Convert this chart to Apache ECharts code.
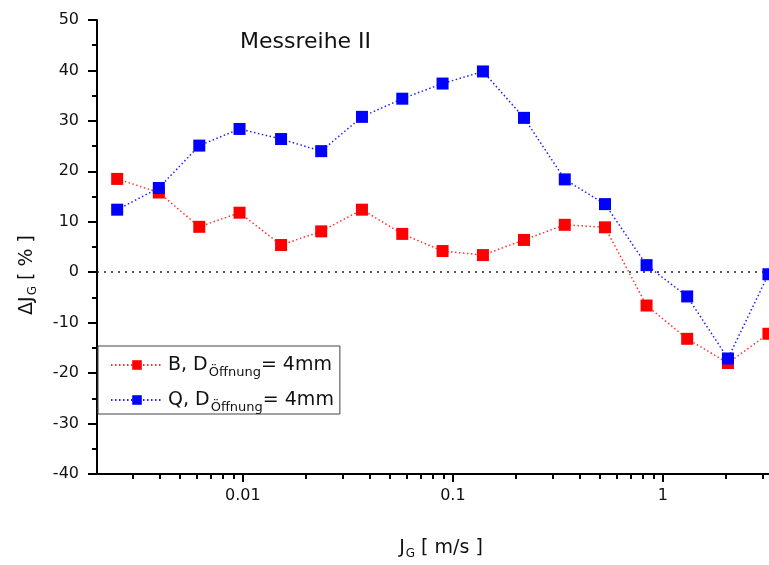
<!DOCTYPE html>
<html>
<head>
<meta charset="utf-8">
<script src="https://cdn.jsdelivr.net/npm/echarts@6/dist/echarts.min.js"></script>
<style>
html,body{margin:0;padding:0;background:#fff;}
#chart{width:769px;height:565px;}
</style>
</head>
<body>
<div id="chart"></div>
<script>
// Data
const jG = [0.00252, 0.00398, 0.0062, 0.00964, 0.0152, 0.0236, 0.0369, 0.0574, 0.0893, 0.139, 0.218, 0.341, 0.530, 0.836, 1.305, 2.04, 3.18];
const seriesB = [18.5, 15.8, 9.0, 11.8, 5.4, 8.1, 12.4, 7.6, 4.2, 3.4, 6.4, 9.4, 8.9, -6.6, -13.2, -18.0, -12.2];
const seriesQ = [12.4, 16.7, 25.1, 28.4, 26.4, 24.0, 30.8, 34.4, 37.4, 39.8, 30.6, 18.4, 13.5, 1.4, -4.8, -17.1, -0.4];
const xMajorTicks = [0.01, 0.1, 1];
const xMinorTicks = [0.002, 0.003, 0.004, 0.005, 0.006, 0.007, 0.008, 0.009,
  0.02, 0.03, 0.04, 0.05, 0.06, 0.07, 0.08, 0.09,
  0.2, 0.3, 0.4, 0.5, 0.6, 0.7, 0.8, 0.9, 2, 3];
const xMin = 0.00202, xMax = 3.2;
const yMin = -40, yMax = 50, yStep = 10;
const nameB = 'B, D';
const nameQ = 'Q, D';
const subText = 'Öffnung';
const suffix = '= 4mm';

const FONT = 'DejaVu Sans';
const chart = echarts.init(document.getElementById('chart'), null, {renderer: 'canvas'});

function pairs(xs, ys) { return xs.map((x, i) => [x, ys[i]]); }

function richSub(main, sub, lh) {
  return {
    a: {fontFamily: FONT, fontSize: main, color: '#111', lineHeight: lh, verticalAlign: 'middle'},
    s: {fontFamily: FONT, fontSize: sub, color: '#111', lineHeight: 8, verticalAlign: 'bottom', padding: [lh - 8, 0, 0, 1]}
  };
}

const option = {
  animation: false,
  backgroundColor: '#fff',
  textStyle: {fontFamily: FONT, color: '#111'},
  title: {
    text: 'Messreihe II',
    left: 235, top: 26,
    textStyle: {fontFamily: FONT, fontSize: 22, fontWeight: 'normal', color: '#111'}
  },
  grid: {left: 97, top: 20, right: 0, bottom: 90, containLabel: false},
  legend: {
    orient: 'vertical',
    left: 98, top: 346,
    padding: [0, 6, 0, 12],
    backgroundColor: '#fff',
    borderColor: '#444', borderWidth: 1,
    itemWidth: 52, itemHeight: 12, itemGap: 2,
    data: [nameB, nameQ],
    formatter: function (n) { return '{a|' + n + '}{s|' + subText + '}{a|' + suffix + '}'; },
    textStyle: {fontFamily: FONT, color: '#111', rich: richSub(19, 13, 28)}
  },
  xAxis: [{
    type: 'log', logBase: 10, min: xMin, max: xMax, position: 'bottom',
    name: '{a|J}{s|G}{a| [ m/s ]}',
    nameLocation: 'middle', nameGap: 62,
    nameTextStyle: {padding: [0, 0, 0, 16], rich: richSub(19, 12, 24)},
    axisLine: {show: true, onZero: false, lineStyle: {color: '#000', width: 2}},
    axisTick: {show: true, inside: false, length: 8, lineStyle: {color: '#000', width: 2}, customValues: xMajorTicks},
    axisLabel: {show: true, margin: 14, fontFamily: FONT, fontSize: 16, color: '#111', customValues: xMajorTicks,
      formatter: function (v) { return String(+v.toPrecision(3)); }},
    minorTick: {show: false},
    splitLine: {show: false}
  }, {
    type: 'log', logBase: 10, min: xMin, max: xMax, position: 'bottom',
    axisLine: {show: false, onZero: false},
    axisTick: {show: true, inside: false, length: 5, lineStyle: {color: '#000', width: 2}, customValues: xMinorTicks},
    axisLabel: {show: false},
    splitLine: {show: false}
  }],
  yAxis: {
    type: 'value', min: yMin, max: yMax, interval: yStep,
    name: '{a|ΔJ}{s|G}{a| [ % ]}',
    nameLocation: 'middle', nameGap: 58, nameRotate: 90,
    nameTextStyle: {padding: [0, 56, 0, 0], rich: richSub(19, 12, 24)},
    axisLine: {show: true, onZero: false, lineStyle: {color: '#000', width: 2}},
    axisTick: {show: true, inside: false, length: 9, lineStyle: {color: '#000', width: 2}},
    minorTick: {show: true, splitNumber: 2, length: 5, lineStyle: {color: '#000', width: 2}},
    axisLabel: {margin: 18, fontFamily: FONT, fontSize: 16, color: '#111'},
    splitLine: {show: false}
  },
  series: [{
    name: nameB, type: 'line', xAxisIndex: 0,
    data: pairs(jG, seriesB),
    symbol: 'rect', symbolSize: 12,
    itemStyle: {color: '#ff0000'},
    lineStyle: {color: '#ff3030', width: 1.5, type: [1.5, 2.5]},
    markLine: {
      silent: true, symbol: 'none', label: {show: false},
      lineStyle: {color: '#222', width: 1.5, type: [2, 5]},
      data: [{yAxis: 0}]
    },
    z: 2
  }, {
    name: nameQ, type: 'line', xAxisIndex: 0,
    data: pairs(jG, seriesQ),
    symbol: 'rect', symbolSize: 12,
    itemStyle: {color: '#0000ff'},
    lineStyle: {color: '#2020ff', width: 1.5, type: [1.5, 2.5]},
    z: 3
  }]
};
chart.setOption(option);
</script>
</body>
</html>
